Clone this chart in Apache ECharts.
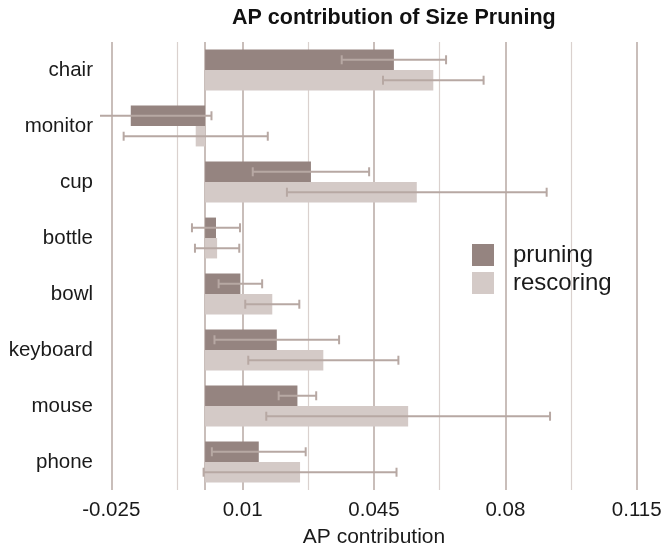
<!DOCTYPE html>
<html>
<head>
<meta charset="utf-8">
<script src="https://cdn.jsdelivr.net/npm/echarts@6/dist/echarts.min.js"></script>
<style>
  html, body { margin: 0; padding: 0; background: #ffffff; }
  #chart { width: 662px; height: 548px; }
</style>
</head>
<body>
<div id="chart"></div>
<script>
// values
const categories = ["chair", "monitor", "cup", "bottle", "bowl", "keyboard", "mouse", "phone"];
const pruning = [0.0503, -0.0198, 0.0282, 0.0029, 0.0094, 0.0191, 0.0246, 0.0143];
const pruningErr = [0.0139, 0.0215, 0.0155, 0.0064, 0.0058, 0.0166, 0.0050, 0.0125];
const rescoring = [0.0608, -0.0025, 0.0564, 0.0032, 0.0179, 0.0315, 0.0541, 0.0253];
const rescoringErr = [0.0134, 0.0192, 0.0346, 0.0059, 0.0072, 0.0200, 0.0378, 0.0257];
const gridValues = [-0.025, -0.0075, 0.01, 0.0275, 0.045, 0.0625, 0.08, 0.0975, 0.115];
const tickLabels = [-0.025, 0.01, 0.045, 0.08, 0.115];

const FONT = '"Liberation Sans", Arial, Helvetica, sans-serif';
const DARK = "#958480";
const LIGHT = "#d4cac7";
const ERR = "#b7a8a3";
const BAR_SHARE = 0.73; // 1 - barCategoryGap

function errorSeries(name, values, errs, side) {
  return {
    type: "custom",
    name: name,
    z: 5,
    clip: true,
    silent: true,
    encode: { x: [0, 1], y: 2 },
    data: values.map((v, i) => [v - errs[i], v + errs[i], i]),
    renderItem: (params, api) => {
      const idx = api.value(2);
      const lo = api.coord([api.value(0), idx]);
      const hi = api.coord([api.value(1), idx]);
      const band = api.size([0, 1])[1];
      const y = lo[1] + side * band * BAR_SHARE / 4;
      const cap = 4.5;
      const style = { stroke: ERR, lineWidth: 2 };
      return {
        type: "group",
        children: [
          { type: "line", shape: { x1: lo[0], y1: y, x2: hi[0], y2: y }, style },
          { type: "line", shape: { x1: lo[0], y1: y - cap, x2: lo[0], y2: y + cap }, style },
          { type: "line", shape: { x1: hi[0], y1: y - cap, x2: hi[0], y2: y + cap }, style },
        ],
      };
    },
  };
}

const gridLines = gridValues.map((v, i) => ({
  xAxis: v,
  lineStyle: { color: i % 2 ? "#dad1ce" : "#bcaea9", width: i % 2 ? 1.2 : 1.6, type: "solid" },
}));
gridLines.push({ xAxis: 0, lineStyle: { color: "#bcaea9", width: 1.6, type: "solid" } });

const chart = echarts.init(document.getElementById("chart"), null, { renderer: "canvas" });
chart.setOption({
  animation: false,
  backgroundColor: "#ffffff",
  title: {
    text: "AP contribution of Size Pruning",
    left: 232,
    top: 7,
    padding: 0,
    textStyle: { fontFamily: FONT, fontSize: 21.5, fontWeight: "bold", color: "#111111" },
  },
  legend: {
    data: ["pruning", "rescoring"],
    orient: "vertical",
    left: 467,
    top: 238,
    icon: "rect",
    itemWidth: 22,
    itemHeight: 22,
    itemGap: 4,
    textStyle: { fontFamily: FONT, fontSize: 24, color: "#1a1a1a", padding: [0, 0, 0, 14] },
  },
  grid: { left: 100, right: 14, top: 42, bottom: 58, containLabel: false, outerBoundsMode: "none" },
  xAxis: {
    type: "value",
    min: -0.028,
    max: 0.118,
    name: "AP contribution",
    nameLocation: "middle",
    nameGap: 37,
    nameTextStyle: { fontFamily: FONT, fontSize: 21, color: "#1a1a1a" },
    axisLine: { show: false },
    axisTick: { show: false },
    splitLine: { show: false },
    axisLabel: {
      customValues: tickLabels,
      margin: 10,
      fontFamily: FONT,
      fontSize: 20.5,
      color: "#1a1a1a",
      formatter: (v) => String(+v.toFixed(4)),
    },
  },
  yAxis: {
    type: "category",
    data: categories,
    inverse: true,
    axisLine: { show: false },
    axisTick: { show: false },
    splitLine: { show: false },
    axisLabel: { margin: 7, fontFamily: FONT, fontSize: 20.5, color: "#1a1a1a" },
  },
  series: [
    {
      type: "scatter",
      name: "grid",
      data: [],
      z: 1,
      silent: true,
      markLine: {
        silent: true,
        z: 1,
        precision: 5,
        symbol: ["none", "none"],
        label: { show: false },
        data: gridLines,
      },
    },
    {
      type: "bar",
      name: "pruning",
      data: pruning,
      z: 3,
      barGap: "0%",
      barCategoryGap: "27%",
      itemStyle: { color: DARK },
    },
    {
      type: "bar",
      name: "rescoring",
      data: rescoring,
      z: 3,
      itemStyle: { color: LIGHT },
    },
    errorSeries("pruning err", pruning, pruningErr, -1),
    errorSeries("rescoring err", rescoring, rescoringErr, 1),
  ],
});
</script>
</body>
</html>
